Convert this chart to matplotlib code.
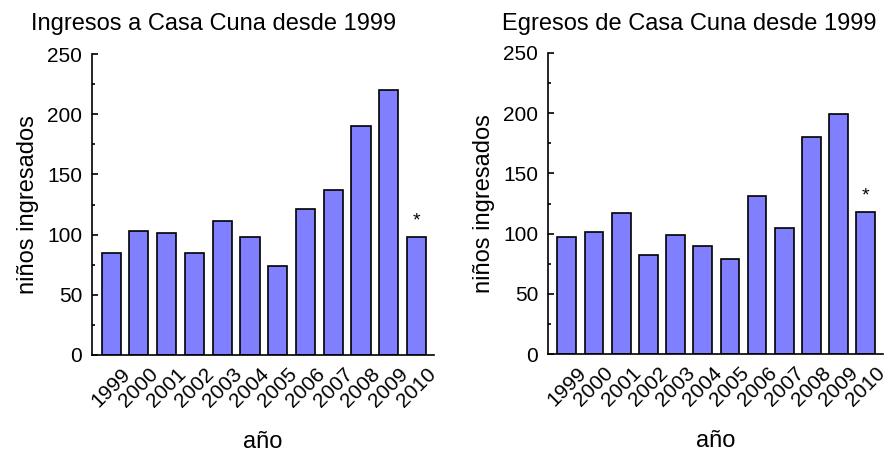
import matplotlib
matplotlib.use("Agg")
import matplotlib.pyplot as plt
from matplotlib.ticker import MultipleLocator

plt.rcParams['font.family'] = ['Liberation Sans', 'DejaVu Sans']

years = ['1999', '2000', '2001', '2002', '2003', '2004', '2005', '2006', '2007', '2008', '2009', '2010']
ingresos = [85, 103, 101, 85, 111, 98, 74, 121, 137, 190, 220, 98]
egresos = [97, 101, 117, 82, 99, 90, 79, 131, 105, 180, 199, 118]
titles = ['Ingresos a Casa Cuna desde 1999', 'Egresos de Casa Cuna desde 1999']
ylabel = 'niños ingresados'
xlabel = 'año'

W, H = 894, 453
fig = plt.figure(figsize=(W / 100, H / 100), dpi=100)

def rect(l, t, r, b):
    return [l / W, (H - b) / H, (r - l) / W, (b - t) / H]

axes_rects = [rect(92, 54, 434, 355), rect(548, 53, 883, 354)]
title_x = [31, 502]

for i, (vals, r) in enumerate(zip([ingresos, egresos], axes_rects)):
    ax = fig.add_axes(r)
    x = list(range(len(years)))
    ax.bar(x, vals, width=0.69, color='#8080FF', edgecolor='black', linewidth=1.2, zorder=2)
    ax.set_xlim(-0.69, len(years) - 1 + 0.63)
    ax.set_ylim(0, 250)
    ax.yaxis.set_major_locator(MultipleLocator(50))
    ax.yaxis.set_minor_locator(MultipleLocator(25))
    ax.spines['top'].set_visible(False)
    ax.spines['right'].set_visible(False)
    ax.spines['left'].set_linewidth(1.2)
    ax.spines['bottom'].set_linewidth(1.2)
    ax.tick_params(axis='y', which='major', direction='in', length=4, width=1.2, labelsize=15, pad=7)
    ax.tick_params(axis='y', which='minor', direction='in', length=2.5, width=1.2)
    ax.set_xticks(x)
    ax.set_xticklabels(years, rotation=45, ha='center', fontsize=15)
    ax.tick_params(axis='x', length=0, pad=7)
    ax.set_ylabel(ylabel, fontsize=17, labelpad=6)
    ax.set_xlabel(xlabel, fontsize=17, labelpad=14)
    ax.text(x[-1], vals[-1] + 6, '*', ha='center', va='bottom', fontsize=14)
    fig.text(title_x[i] / W, 1 - 30 / H, titles[i], ha='left', va='baseline', fontsize=17)

fig.savefig('out.png', dpi=100)
